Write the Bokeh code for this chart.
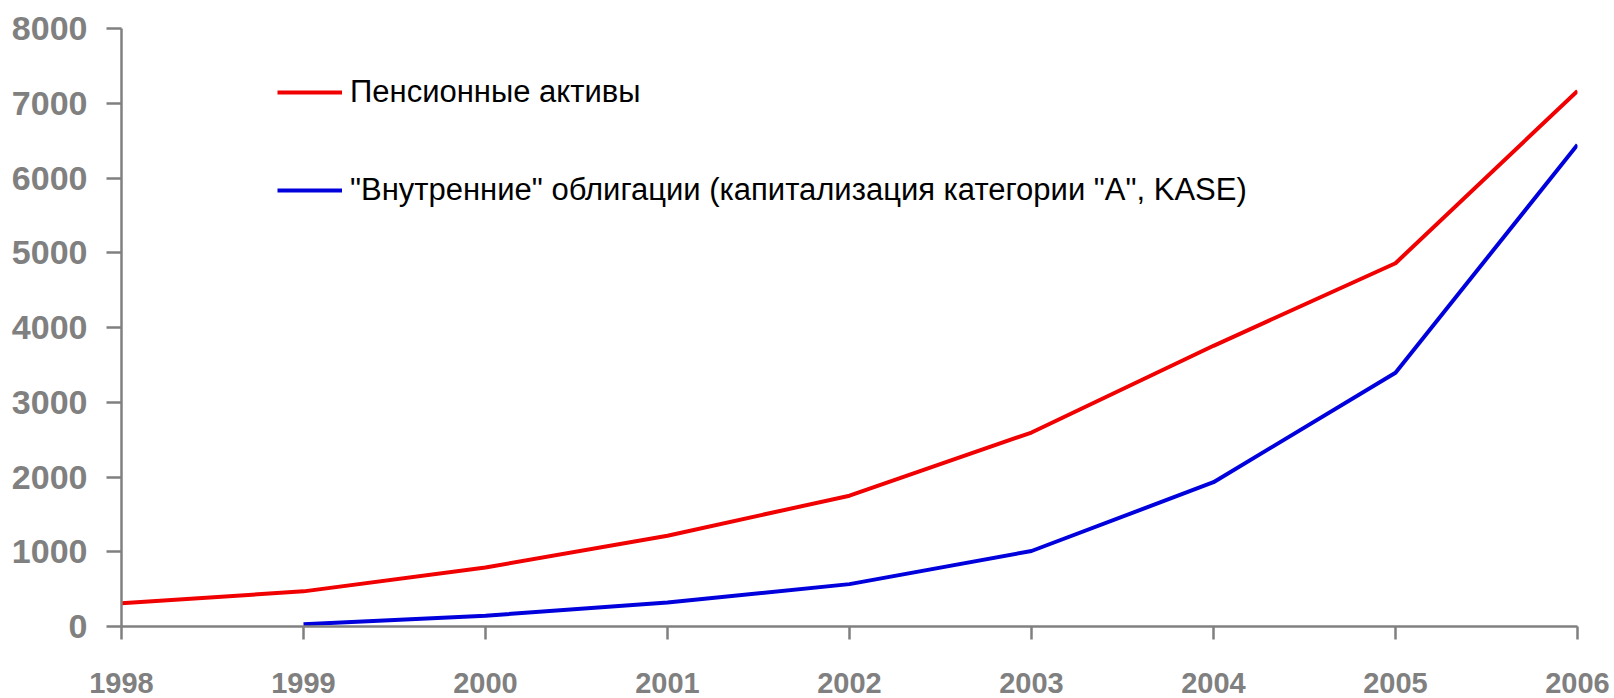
from bokeh.plotting import figure
from bokeh.models import Range1d, FixedTicker, Legend, LegendItem
from bokeh.embed import file_html
from bokeh.resources import INLINE

years = [1998, 1999, 2000, 2001, 2002, 2003, 2004, 2005, 2006]
pension_assets = [310, 470, 790, 1215, 1750, 2595, 3755, 4860, 7165]
bond_years = [1999, 2000, 2001, 2002, 2003, 2004, 2005, 2006]
bonds = [30, 145, 320, 567, 1010, 1930, 3395, 6445]
y_ticks = [0, 1000, 2000, 3000, 4000, 5000, 6000, 7000, 8000]
label_pension = "Пенсионные активы"
label_bonds = "\"Внутренние\" облигации (капитализация категории \"А\", KASE)"

FONT = "Liberation Sans Narrow, Arial Narrow, Liberation Sans"
GRAY = "#808080"

p = figure(width=1614, height=698, output_backend="svg", toolbar_location=None,
           x_range=Range1d(1998, 2006), y_range=Range1d(0, 8000),
           min_border_left=121, min_border_right=37, min_border_top=28, min_border_bottom=72)
p.outline_line_color = None
p.xgrid.grid_line_color = None
p.ygrid.grid_line_color = None
p.background_fill_color = "white"
p.border_fill_color = "white"

r1 = p.line(years, pension_assets, line_color="#f00000", line_width=4)
r2 = p.line(bond_years, bonds, line_color="#0000dd", line_width=4)

for ax in (p.xaxis[0], p.yaxis[0]):
    ax.axis_line_color = GRAY
    ax.axis_line_width = 2.5
    ax.major_tick_line_color = GRAY
    ax.major_tick_line_width = 2.5
    ax.minor_tick_line_color = None
    ax.major_tick_in = 0
    ax.major_label_text_color = GRAY
    ax.major_label_text_font = FONT
    ax.major_label_text_font_style = "bold"

p.xaxis.ticker = FixedTicker(ticks=years)
p.xaxis.major_tick_out = 13
p.xaxis.major_label_standoff = 33
p.xaxis.major_label_text_font_size = "29px"

p.yaxis.ticker = FixedTicker(ticks=y_ticks)
p.yaxis.major_tick_out = 15
p.yaxis.major_label_standoff = 19
p.yaxis.major_label_text_font_size = "34px"

legend = Legend(items=[LegendItem(label=label_pension, renderers=[r1]),
                       LegendItem(label=label_bonds, renderers=[r2])],
                location=(156, 418), orientation="vertical",
                glyph_width=65, glyph_height=30, label_height=30, spacing=62,
                label_standoff=8, padding=10, margin=0,
                label_text_font=FONT, label_text_font_size="31px",
                label_text_color="black",
                border_line_color=None, background_fill_alpha=0)
p.add_layout(legend)

open("out.html", "w").write(file_html(p, INLINE))
